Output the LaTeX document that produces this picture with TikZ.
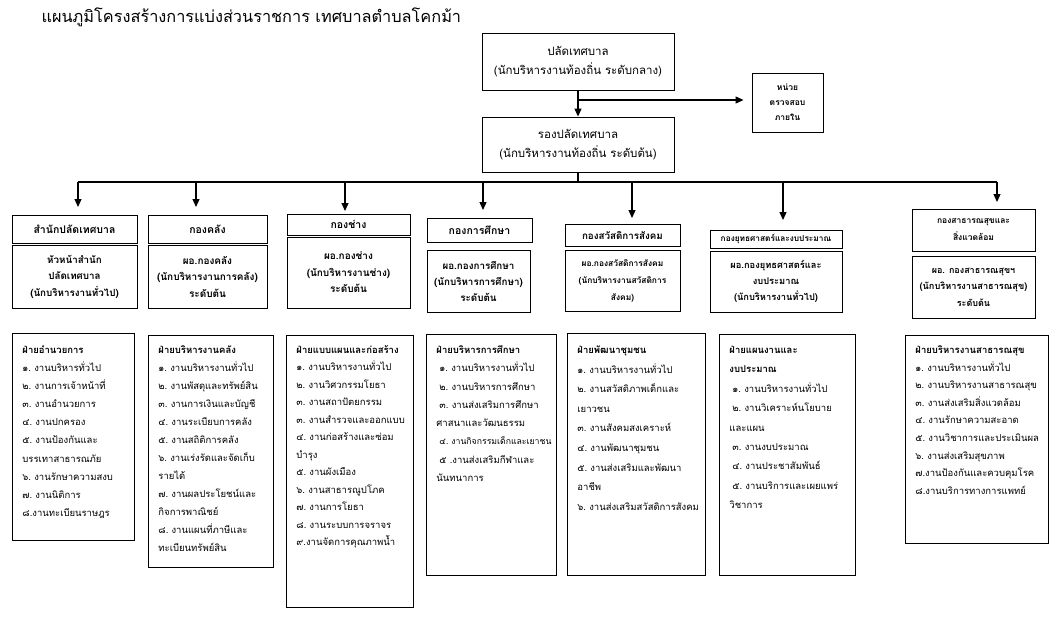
\documentclass[tikz,border=0pt]{standalone}
\usepackage{fontspec}
\setmainfont[Script=Thai]{Loma}
\usetikzlibrary{arrows.meta}
\newcommand\fs[2]{\fontsize{#1}{#2}\selectfont}
\newcommand\lst[5]{\begin{minipage}[t][#2pt][t]{#1pt}\fs{9.5}{#3}\raggedright\leftskip=10pt\rule{0pt}{#4pt}#5\end{minipage}}
\newcommand\ind{\hspace*{3pt}}
\begin{document}
\begin{tikzpicture}[x=1pt,y=-1pt,
 box/.style={draw=black,line width=0.9pt,inner sep=0pt,align=center},
 arr/.style={line width=1.2pt,-{Triangle[length=8pt,width=7pt]}},
 conn/.style={line width=1.2pt},
 lbox/.style={draw=black,line width=0.9pt,inner sep=0pt,anchor=north west}]
\useasboundingbox (0,0) rectangle (1053,641);
\node[anchor=west,font=\fs{16.3}{18}] (title) at (38,17) {แผนภูมิโครงสร้างการแบ่งส่วนราชการ เทศบาลตำบลโคกม้า};

\node[box,minimum width=192pt,minimum height=57pt,font=\fs{11.5}{19}] (p1) at (578,61.5) {ปลัดเทศบาล\\(นักบริหารงานท้องถิ่น ระดับกลาง)};
\node[box,minimum width=192pt,minimum height=55pt,font=\fs{11.5}{19}] (p2) at (578,144.5) {รองปลัดเทศบาล\\(นักบริหารงานท้องถิ่น ระดับต้น)};
\node[box,minimum width=71pt,minimum height=59pt,font=\fs{8.5}{15}\bfseries] (hn) at (787.5,102.5) {หน่วย\\ตรวจสอบ\\ภายใน};

\draw[arr] (p1) -- (p2);
\coordinate (j1) at (578,100);
\draw[arr,shorten >=8pt] (j1) -- (j1 -| hn.west);

% headers
\node[box,minimum width=125pt,minimum height=28pt,font=\fs{10.5}{12}\bfseries] (h1) at (74.5,229) {สำนักปลัดเทศบาล};
\node[box,minimum width=119pt,minimum height=28pt,font=\fs{10.5}{12}\bfseries] (h2) at (207.5,229) {กองคลัง};
\node[box,minimum width=123pt,minimum height=21pt,font=\fs{10.5}{12}\bfseries] (h3) at (348.5,224.5) {กองช่าง};
\node[box,minimum width=105pt,minimum height=24pt,font=\fs{10.5}{12}\bfseries] (h4) at (479.5,230) {กองการศึกษา};
\node[box,minimum width=115pt,minimum height=22pt,font=\fs{9.8}{12}\bfseries] (h5) at (622.5,235.5) {กองสวัสดิการสังคม};
\node[box,minimum width=132pt,minimum height=18pt,font=\fs{8.3}{10}\bfseries] (h6) at (776,239) {กองยุทธศาสตร์และงบประมาณ};
\node[box,minimum width=123pt,minimum height=42pt,font=\fs{8.5}{17}\bfseries] (h7) at (973.5,230) {กองสาธารณสุขและ\\สิ่งแวดล้อม};

% sub boxes
\node[box,minimum width=125pt,minimum height=63pt,font=\fs{9.8}{16.5}\bfseries] (s1) at (74.5,276.5) {หัวหน้าสำนัก\\ปลัดเทศบาล\\(นักบริหารงานทั่วไป)};
\node[box,minimum width=119pt,minimum height=63pt,font=\fs{10}{16.5}\bfseries] (s2) at (207.5,276.5) {ผอ.กองคลัง\\(นักบริหารงานการคลัง)\\ระดับต้น};
\node[box,minimum width=123pt,minimum height=71pt,font=\fs{10}{16.5}\bfseries] (s3) at (348.5,272.5) {ผอ.กองช่าง\\(นักบริหารงานช่าง)\\ระดับต้น};
\node[box,minimum width=103pt,minimum height=62pt,font=\fs{9.8}{16}\bfseries] (s4) at (478.5,281) {ผอ.กองการศึกษา\\(นักบริหารการศึกษา)\\ระดับต้น};
\node[box,minimum width=115pt,minimum height=61pt,font=\fs{8.4}{17}\bfseries] (s5) at (622.5,280.5) {ผอ.กองสวัสดิการสังคม\\(นักบริหารงานสวัสดิการ\\สังคม)};
\node[box,minimum width=132pt,minimum height=61pt,font=\fs{9.3}{16}\bfseries] (s6) at (776,281.5) {ผอ.กองยุทธศาสตร์และ\\งบประมาณ\\(นักบริหารงานทั่วไป)};
\node[box,minimum width=123pt,minimum height=62pt,font=\fs{9}{16.5}\bfseries] (s7) at (973.5,287) {ผอ. กองสาธารณสุขฯ\\\fontsize{9.2}{16.5}\selectfont(นักบริหารงานสาธารณสุข)\\\fontsize{9}{16.5}\selectfont ระดับต้น};

% bus
\coordinate (bus) at (578,182);
\coordinate (t1) at (78,207);
\coordinate (t2) at (196,207);
\coordinate (t3) at (345,211);
\coordinate (t4) at (483,210);
\coordinate (t5) at (632,218);
\coordinate (t6) at (783,220);
\coordinate (t7) at (997,202);
\draw[conn] (p2.south) -- (bus);
\draw[conn] (bus -| t1) -- (bus -| t7);
\foreach \t in {t1,t2,t3,t4,t5,t6,t7}{\draw[arr] (bus -| \t) -- (\t);}

% lists
\node[lbox] (L1) at (12,333) {\lst{122}{207}{18.1}{20}{\textbf{ฝ่ายอำนวยการ}\\
๑.~งานบริหารทั่วไป\\
๒.~งานการเจ้าหน้าที่\\
๓.~งานอำนวยการ\\
๔.~งานปกครอง\\
๕.~งานป้องกันและ\\
บรรเทาสาธารณภัย\\
๖.~งานรักษาความสงบ\\
๗.~งานนิติการ\\
๘.งานทะเบียนราษฎร}};

\node[lbox] (L2) at (148,335) {\lst{125}{232}{18}{18}{\textbf{ฝ่ายบริหารงานคลัง}\\
๑.~งานบริหารงานทั่วไป\\
๒.~งานพัสดุและทรัพย์สิน\\
๓.~งานการเงินและบัญชี\\
๔.~งานระเบียบการคลัง\\
๕.~งานสถิติการคลัง\\
๖.~งานเร่งรัดและจัดเก็บ\\
รายได้\\
๗.~งานผลประโยชน์และ\\
กิจการพาณิชย์\\
๘.~งานแผนที่ภาษีและ\\
ทะเบียนทรัพย์สิน}};

\node[lbox] (L3) at (286,335) {\lst{127}{272}{17.5}{18}{\textbf{ฝ่ายแบบแผนและก่อสร้าง}\\
๑.~งานบริหารงานทั่วไป\\
๒.~งานวิศวกรรมโยธา\\
๓.~งานสถาปัตยกรรม\\
๓.~งานสำรวจและออกแบบ\\
๔.~งานก่อสร้างและซ่อม\\
บำรุง\\
๕.~งานผังเมือง\\
๖.~งานสาธารณูปโภค\\
๗.~งานการโยธา\\
๘.~งานระบบการจราจร\\
๙.งานจัดการคุณภาพน้ำ}};

\node[lbox] (L4) at (426,334) {\lst{130}{241}{18.3}{19}{\textbf{ฝ่ายบริหารการศึกษา}\\
\ind ๑.~งานบริหารงานทั่วไป\\
\ind ๒.~งานบริหารการศึกษา\\
\ind ๓.~งานส่งเสริมการศึกษา\\
ศาสนาและวัฒนธรรม\\
\ind {\fontsize{8.7}{18.3}\selectfont ๔.~งานกิจกรรมเด็กและเยาชน}\\
\ind ๕~.งานส่งเสริมกีฬาและ\\
นันทนาการ}};

\node[lbox] (L5) at (567,333) {\lst{138}{242}{19.6}{20}{\textbf{ฝ่ายพัฒนาชุมชน}\\
๑.~งานบริหารงานทั่วไป\\
๒.~งานสวัสดิภาพเด็กและ\\
เยาวชน\\
๓.~งานสังคมสงเคราะห์\\
๔.~งานพัฒนาชุมชน\\
๕.~งานส่งเสริมและพัฒนา\\
อาชีพ\\
๖.~งานส่งเสริมสวัสดิการสังคม}};

\node[lbox] (L6) at (719,334) {\lst{136}{241}{19.4}{19}{\textbf{ฝ่ายแผนงานและ}\\
\textbf{งบประมาณ}\\
\ind ๑.~งานบริหารงานทั่วไป\\
\ind ๒.~งานวิเคราะห์นโยบาย\\
และแผน\\
\ind ๓.~งานงบประมาณ\\
\ind ๔.~งานประชาสัมพันธ์\\
\ind ๕.~งานบริการและเผยแพร่\\
วิชาการ}};

\node[lbox] (L7) at (905,335) {\lst{143}{208}{17.6}{18}{\textbf{ฝ่ายบริหารงานสาธารณสุข}\\
๑.~งานบริหารงานทั่วไป\\
๒.~งานบริหารงานสาธารณสุข\\
๓.~งานส่งเสริมสิ่งแวดล้อม\\
๔.~งานรักษาความสะอาด\\
๕.~งานวิชาการและประเมินผล\\
๖.~งานส่งเสริมสุขภาพ\\
๗.งานป้องกันและควบคุมโรค\\
๘.งานบริการทางการแพทย์}};
\end{tikzpicture}
\end{document}
